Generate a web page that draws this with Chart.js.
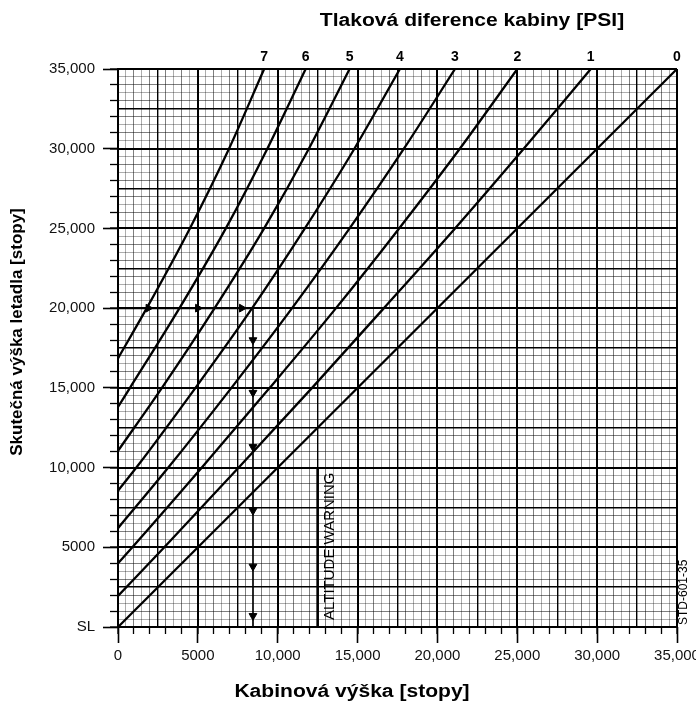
<!doctype html>
<html>
<head>
<meta charset="utf-8">
<title>Tlaková diference kabiny</title>
<style>
    html, body { margin: 0; padding: 0; background: #fff; }
    .chart { width: 696px; height: 709px; position: relative; }
</style>
<script src="https://cdn.jsdelivr.net/npm/chart.js@4/dist/chart.umd.min.js"></script>
</head>
<body>
<div class="chart"><canvas id="chart"></canvas></div>
<script>
"use strict";

// tlakova diference kabiny [PSI], jedna krivka na hodnotu
let psi = ["0", "1", "2", "3", "4", "5", "6", "7"];

// skutecna vyska letadla [ft] a kabinova vyska [ft] pro kazdou krivku
let aircraft0 = [0, 35000];
let cabin0 = [0, 35000];
let aircraft1 = [1950, 5000, 10000, 15000, 20000, 25000, 30000, 35000];
let cabin1 = [0, 2900, 7550, 12150, 16650, 21100, 25400, 29600];
let aircraft2 = [4000, 5000, 10000, 15000, 20000, 25000, 30000, 35000];
let cabin2 = [0, 900, 5250, 9500, 13650, 17600, 21400, 25000];
let aircraft3 = [6200, 10000, 15000, 20000, 25000, 30000, 35000];
let cabin3 = [0, 3150, 7100, 10900, 14500, 17900, 21100];
let aircraft4 = [8550, 10000, 15000, 20000, 25000, 30000, 35000];
let cabin4 = [0, 1150, 4850, 8400, 11700, 14800, 17650];
let aircraft5 = [11050, 15000, 20000, 25000, 30000, 35000];
let cabin5 = [0, 2750, 6050, 9150, 11950, 14500];
let aircraft6 = [13800, 15000, 20000, 25000, 30000, 35000];
let cabin6 = [0, 750, 3850, 6750, 9350, 11750];
let aircraft7 = [16850, 20000, 25000, 30000, 35000];
let cabin7 = [0, 1800, 4500, 6950, 9150];

let aircraft = [aircraft0, aircraft1, aircraft2, aircraft3, aircraft4, aircraft5, aircraft6, aircraft7];
let cabin = [cabin0, cabin1, cabin2, cabin3, cabin4, cabin5, cabin6, cabin7];

// priklad odecteni: 20 000 ft, 4 PSI -> kabina 8400 ft
let guideAircraft = 20000;
let guideCabin = 8450;
let rightArrows = [1900, 5000, 7750];
let downArrows = [18000, 14700, 11300, 7300, 3800, 700];

// hranice varovani
let warnCabin = 12500;
let warnAircraft = [0, 10000];

let axisMin = 0;
let axisMax = 35000;
let labelStep = 5000;
let gridStep = 500;

let topTitle = "Tlaková diference kabiny [PSI]";
let xTitle = "Kabinová výška [stopy]";
let yTitle = "Skutečná výška letadla [stopy]";
let warnText = "ALTITUDE WARNING";
let codeText = "STD-601-35";

let font = "'Liberation Sans', Arial, sans-serif";

function gridColor(ctx) {
    let v = ctx.tick ? ctx.tick.value : 0;
    if (v % 2500 === 0) return "#000";
    if (v % 1000 === 0) return "rgba(0,0,0,0.5)";
    return "rgba(0,0,0,0.32)";
}

function gridWidth(ctx) {
    let v = ctx.tick ? ctx.tick.value : 0;
    if (v % 5000 === 0) return 2;
    if (v % 2500 === 0) return 1.4;
    return 1;
}

function minorTick(ctx) {
    let v = ctx.tick ? ctx.tick.value : 0;
    return v % 1000 === 0 ? "#000" : "rgba(0,0,0,0)";
}

function fmt(v) {
    return v >= 10000 ? v.toLocaleString("en-US") : String(v);
}

let datasets = [];
for (let i = 0; i < psi.length; i++) {
    datasets.push({
        label: psi[i] + " PSI",
        data: cabin[i].map((c, j) => ({ x: c, y: aircraft[i][j] })),
        borderColor: "#000",
        borderWidth: 2.3,
        pointRadius: 0,
        cubicInterpolationMode: "monotone",
        xAxisID: "x",
        yAxisID: "y",
    });
}

datasets.push({
    label: "guide-h",
    data: [{ x: 0, y: guideAircraft }, { x: guideCabin, y: guideAircraft }],
    borderColor: "#000",
    borderWidth: 2.2,
    pointRadius: 0,
});
datasets.push({
    label: "guide-v",
    data: [{ x: guideCabin, y: guideAircraft }, { x: guideCabin, y: 0 }],
    borderColor: "#000",
    borderWidth: 1.6,
    pointRadius: 0,
});
datasets.push({
    label: "arrows-right",
    type: "scatter",
    data: rightArrows.map(c => ({ x: c, y: guideAircraft })),
    pointStyle: "triangle",
    pointRotation: 90,
    pointRadius: 4.5,
    backgroundColor: "#000",
    borderColor: "#000",
    borderWidth: 1,
});
datasets.push({
    label: "arrows-down",
    type: "scatter",
    data: downArrows.map(a => ({ x: guideCabin, y: a })),
    pointStyle: "triangle",
    pointRotation: 180,
    pointRadius: 4.5,
    backgroundColor: "#000",
    borderColor: "#000",
    borderWidth: 1,
});
datasets.push({
    label: "warning",
    data: warnAircraft.map(a => ({ x: warnCabin, y: a })),
    borderColor: "#000",
    borderWidth: 2.6,
    pointRadius: 0,
});

let topCabin = cabin.map(c => c[c.length - 1]);

// vodorovne popisky jsou v predloze sirsi, proto mirne roztazeni
function wideText(ctx, text, x, y, stretch) {
    ctx.save();
    ctx.translate(x, y);
    ctx.scale(stretch, 1);
    ctx.fillText(text, 0, 0);
    ctx.restore();
}

let textPlugin = {
    id: "texts",
    afterDraw(chart) {
        let ctx = chart.ctx;
        let sx = chart.scales.x;
        let sy = chart.scales.y;
        ctx.save();
        ctx.fillStyle = "#000";
        ctx.textBaseline = "middle";
        ctx.textAlign = "center";
        ctx.font = "bold 18px " + font;
        wideText(ctx, topTitle, 472, 21, 1.17);
        wideText(ctx, xTitle, 352, 692, 1.17);

        ctx.font = "bold 17px " + font;
        ctx.save();
        ctx.translate(17, 332);
        ctx.rotate(-Math.PI / 2);
        ctx.fillText(yTitle, 0, 0);
        ctx.restore();

        ctx.textAlign = "left";
        ctx.font = "15px " + font;
        ctx.save();
        ctx.translate(sx.getPixelForValue(warnCabin) + 12, sy.getPixelForValue(0) - 7);
        ctx.rotate(-Math.PI / 2);
        ctx.fillText(warnText, 0, 0);
        ctx.restore();

        ctx.font = "12px " + font;
        ctx.save();
        ctx.translate(684, sy.getPixelForValue(0) - 2);
        ctx.rotate(-Math.PI / 2);
        ctx.fillText(codeText, 0, 0);
        ctx.restore();
        ctx.restore();
    },
};

new Chart(document.getElementById("chart"), {
    type: "line",
    data: { datasets: datasets },
    plugins: [textPlugin],
    options: {
        responsive: true,
        maintainAspectRatio: false,
        animation: false,
        events: [],
        layout: { padding: { top: 47, right: 19, bottom: 0, left: 0 } },
        plugins: { legend: { display: false }, tooltip: { enabled: false }, title: { display: false } },
        scales: {
            x: {
                type: "linear",
                position: "bottom",
                weight: 0,
                min: axisMin,
                max: axisMax,
                ticks: { stepSize: gridStep, display: false, autoSkip: false },
                grid: { color: gridColor, lineWidth: gridWidth, tickLength: 7, tickColor: minorTick, tickWidth: 1.3 },
                border: { display: true, color: "#000", width: 2 },
                afterFit: s => { s.height = 0; s.paddingLeft = 0; s.paddingRight = 0; },
            },
            xLab: {
                type: "linear",
                position: "bottom",
                weight: 1,
                min: axisMin,
                max: axisMax,
                ticks: {
                    stepSize: labelStep,
                    autoSkip: false,
                    maxRotation: 0,
                    padding: 4,
                    color: "#111",
                    font: { family: font, size: 15 },
                    callback: v => fmt(v),
                },
                grid: { drawOnChartArea: false, tickLength: 16, tickColor: "#000", tickWidth: 1.6 },
                border: { display: false },
                afterFit: s => { s.height = 82; s.paddingLeft = 0; s.paddingRight = 0; },
            },
            xTop: {
                type: "linear",
                position: "top",
                min: axisMin,
                max: axisMax,
                afterBuildTicks: s => { s.ticks = topCabin.map(v => ({ value: v })); },
                ticks: {
                    autoSkip: false,
                    maxRotation: 0,
                    padding: 3,
                    color: "#000",
                    font: { family: font, size: 14, weight: "bold" },
                    callback: (v, i) => psi[i],
                },
                grid: { display: false, drawTicks: false },
                border: { display: false },
                afterFit: s => { s.height = 22; s.paddingLeft = 0; s.paddingRight = 0; },
            },
            y: {
                type: "linear",
                position: "left",
                weight: 0,
                min: axisMin,
                max: axisMax,
                ticks: { stepSize: gridStep, display: false },
                grid: { color: gridColor, lineWidth: gridWidth, tickLength: 8, tickColor: minorTick, tickWidth: 1.3 },
                border: { display: true, color: "#000", width: 2 },
                afterFit: s => { s.width = 0; s.paddingTop = 0; s.paddingBottom = 0; },
            },
            yLab: {
                type: "linear",
                position: "left",
                weight: 1,
                min: axisMin,
                max: axisMax,
                ticks: {
                    stepSize: labelStep,
                    padding: 8,
                    color: "#111",
                    font: { family: font, size: 15 },
                    callback: v => (v === 0 ? "SL" : fmt(v)),
                },
                grid: { drawOnChartArea: false, tickLength: 15, tickColor: "#000", tickWidth: 1.6 },
                border: { display: false },
                afterFit: s => { s.width = 118; s.paddingTop = 0; s.paddingBottom = 0; },
            },
        },
    },
});
</script>
</body>
</html>
